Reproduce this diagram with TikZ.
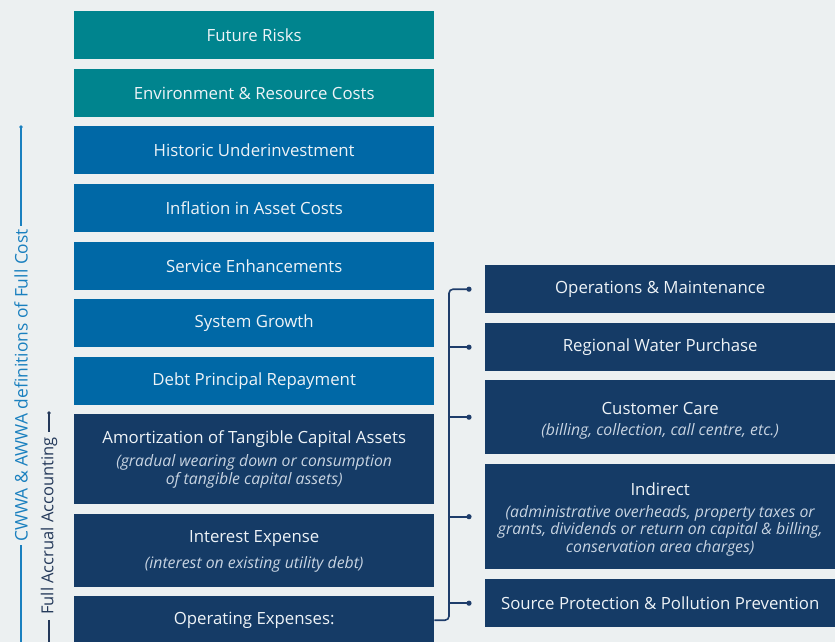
\documentclass[tikz,border=0pt]{standalone}
\usepackage{fontspec}
\setmainfont{Open Sans}
\usetikzlibrary{calc}
\definecolor{bgc}{HTML}{ECF0F1}
\definecolor{tealc}{HTML}{00848E}
\definecolor{bluec}{HTML}{0068A6}
\definecolor{navyc}{HTML}{153B66}
\definecolor{txtc}{HTML}{EEF3F7}
\definecolor{subc}{HTML}{C8D4E2}
\definecolor{linec}{HTML}{1A80BF}
\definecolor{darkc}{HTML}{24395A}
\definecolor{brkc}{HTML}{1E3D6B}
\tikzset{
  cbox/.style={rectangle, inner sep=0pt, anchor=north west, text=txtc,
    font=\fontsize{16.8}{19}\selectfont},
  lbox/.style={cbox, minimum width=360pt},
  rbox/.style={cbox, minimum width=350pt, fill=navyc},
  ttl/.style={text=txtc, font=\fontsize{16.8}{19}\selectfont, inner sep=0pt},
  sub/.style={text=subc, font=\fontsize{15.8}{17.5}\selectfont\itshape, align=center, inner sep=0pt},
  brk/.style={draw=brkc, line width=1.6pt},
}
\begin{document}
\begin{tikzpicture}[x=1pt,y=-1pt]
\useasboundingbox[fill=bgc] (0,0) rectangle (835,642);

% left column
\node[lbox, fill=tealc, minimum height=48pt] (fr) at (74,11) {Future Risks};
\node[lbox, fill=tealc, minimum height=48pt] (env) at (74,69) {Environment \& Resource Costs};
\node[lbox, fill=bluec, minimum height=48pt] (hist) at (74,126) {Historic Underinvestment};
\node[lbox, fill=bluec, minimum height=48pt] (infl) at (74,184) {Inflation in Asset Costs};
\node[lbox, fill=bluec, minimum height=48pt] (serv) at (74,242) {Service Enhancements};
\node[lbox, fill=bluec, minimum height=48pt] (sysg) at (74,299) {System Growth};
\node[lbox, fill=bluec, minimum height=48pt] (debt) at (74,357) {Debt Principal Repayment};
\node[lbox, fill=navyc, minimum height=90pt] (amort) at (74,414) {};
\node[ttl] (amortt) at ($(amort.north)+(0,25)$) {Amortization of Tangible Capital Assets};
\node[sub] (amorts) at ($(amort.north)+(0,57.5)$) {(gradual wearing down or consumption\\of tangible capital assets)};
\node[lbox, fill=navyc, minimum height=73pt] (intr) at (74,514) {};
\node[ttl] (intrt) at ($(intr.north)+(0,25)$) {Interest Expense};
\node[sub] (intrs) at ($(intr.north)+(0,50)$) {(interest on existing utility debt)};
\node[lbox, fill=navyc, minimum height=48pt] (opx) at (74,596) {Operating Expenses:};

% right column
\node[rbox, minimum height=48pt] (ops) at (485,265) {Operations \& Maintenance};
\node[rbox, minimum height=48pt] (rwp) at (485,323) {Regional Water Purchase};
\node[rbox, minimum height=74pt] (cc) at (485,380) {};
\node[ttl] (cct) at ($(cc.north)+(0,28)$) {Customer Care};
\node[sub] (ccs) at ($(cc.north)+(0,51)$) {(billing, collection, call centre, etc.)};
\node[rbox, minimum height=105pt] (ind) at (485,464) {};
\node[ttl] (indt) at ($(ind.north)+(0,25)$) {Indirect};
\node[sub] (inds) at ($(ind.north)+(0,66.5)$) {(administrative overheads, property taxes or\\grants, dividends or return on capital \& billing,\\conservation area charges)};
\node[rbox, minimum height=48pt] (src) at (485,579) {Source Protection \& Pollution Prevention};

% bracket
\draw[brk, rounded corners=4pt] (opx.east) -| ($(ops.west)+(-36,0)$) -- ($(ops.west)+(-16,0)$);
\foreach \b in {rwp,cc,ind,src}{
  \draw[brk] ($(\b.west)+(-36,0)$) -- ($(\b.west)+(-16,0)$);
}
\foreach \b in {ops,rwp,cc,ind,src}{
  \fill[brkc] ($(\b.west)+(-16,0)$) circle (2.6pt);
}

% left labels
\coordinate (ctop) at (21,127);
\coordinate (cbot) at (21,642);
\node[rotate=90, text=linec, font=\fontsize{17.4}{19}\selectfont, inner sep=3pt] (cw) at (21,385.5) {CWWA \& AWWA definitions of Full Cost};
\draw[linec, line width=1.2pt] (ctop) -- (cw.east);
\draw[linec, line width=1.2pt] (cw.west) -- (cbot);
\fill[linec] (ctop) circle (1.8pt);

\coordinate (ftop) at (49,413);
\coordinate (fbot) at (49,642);
\node[rotate=90, text=darkc, font=\fontsize{16.5}{19}\selectfont, inner sep=5pt] (fa) at (49,526) {Full Accrual Accounting};
\draw[darkc, line width=1.2pt] (ftop) -- (fa.east);
\draw[darkc, line width=1.2pt] (fa.west) -- (fbot);
\fill[darkc] (ftop) circle (1.8pt);
\end{tikzpicture}
\end{document}
